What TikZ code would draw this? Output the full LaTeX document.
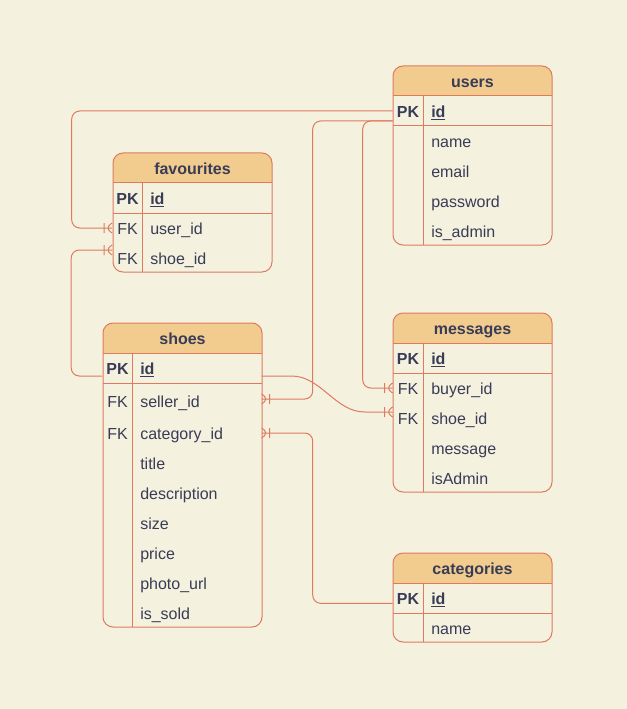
\documentclass[tikz,border=0pt]{standalone}
\usepackage{fontspec}
\setmainfont{Liberation Sans}
\usepackage{tikz}
\usetikzlibrary{decorations.markings}

\definecolor{erfill}{HTML}{F4F1DE}
\definecolor{erhead}{HTML}{F2CC8F}
\definecolor{erline}{HTML}{E07A5F}
\definecolor{ertext}{HTML}{393C56}

\tikzset{
  erfont/.style={font=\fontsize{12}{14}\selectfont, text=ertext, text height=11pt, text depth=1.5pt},
  keycell/.style={erfont, minimum width=22.5pt, minimum height=22.5pt, inner sep=0pt},
  fieldcell/.style={erfont, anchor=west, text width=84.75pt, inner xsep=6pt, inner ysep=0pt, minimum height=22.5pt, align=left},
  headcell/.style={erfont, font=\fontsize{12}{14}\selectfont\bfseries},
  frame/.style={draw=erline, line width=0.75pt},
  link/.style={draw=erline, line width=0.75pt, rounded corners=6pt},
  crow/.style={postaction={decorate}, decoration={markings, mark=at position 1 with {\draw[erline, line width=0.75pt] (0pt,-3.75pt) -- (-6pt,0pt) -- (0pt,3.75pt) (-6pt,-3.75pt) -- (-6pt,3.75pt);}}}
}

\begin{document}
\begin{tikzpicture}[x=0.75pt,y=0.75pt,yscale=-1,xscale=1]
\useasboundingbox (0,0) rectangle (627,709);
\fill[erfill] (0,0) rectangle (627,709);

%Shape: Table [users]
\begin{scope}
\clip[rounded corners=7.5pt] (393,66) rectangle (552,245);
\fill[erhead] (393,66) rectangle (552,96);
\end{scope}
\draw[frame, rounded corners=7.5pt] (393,66) rectangle (552,245);
\draw[frame] (393,96) -- (552,96) (393,126) -- (552,126) (423,96) -- (423,245);
\node[headcell] (usersHead) at (472.5,81) {users};
\node[keycell, font=\fontsize{12}{14}\selectfont\bfseries] (usersPK) at (408,111) {PK};
\node[fieldcell, font=\fontsize{12}{14}\selectfont\bfseries] (usersId) at (423,111) {\underline{id}};
\node[fieldcell] (usersName) at (423,141) {name};
\node[fieldcell] (usersEmail) at (423,171) {email};
\node[fieldcell] (usersPassword) at (423,201) {password};
\node[fieldcell] (usersAdmin) at (423,231) {is\_admin};

%Shape: Table [favourites]
\begin{scope}
\clip[rounded corners=7.5pt] (113,153) rectangle (272,272);
\fill[erhead] (113,153) rectangle (272,183);
\end{scope}
\draw[frame, rounded corners=7.5pt] (113,153) rectangle (272,272);
\draw[frame] (113,183) -- (272,183) (113,213) -- (272,213) (142,183) -- (142,272);
\node[headcell] (favHead) at (192.5,168) {favourites};
\node[keycell, font=\fontsize{12}{14}\selectfont\bfseries] (favPK) at (127.5,198) {PK};
\node[fieldcell, font=\fontsize{12}{14}\selectfont\bfseries] (favId) at (142,198) {\underline{id}};
\node[keycell] (favUserFK) at (127.5,228) {FK};
\node[fieldcell] (favUser) at (142,228) {user\_id};
\node[keycell] (favShoeFK) at (127.5,258) {FK};
\node[fieldcell] (favShoe) at (142,258) {shoe\_id};

%Shape: Table [shoes]
\begin{scope}
\clip[rounded corners=7.5pt] (103,323) rectangle (262,627);
\fill[erhead] (103,323) rectangle (262,353);
\end{scope}
\draw[frame, rounded corners=7.5pt] (103,323) rectangle (262,627);
\draw[frame] (103,353) -- (262,353) (103,383) -- (262,383) (132,353) -- (132,627);
\node[headcell] (shoesHead) at (182.5,338) {shoes};
\node[keycell, font=\fontsize{12}{14}\selectfont\bfseries] (shoesPK) at (117.5,368) {PK};
\node[fieldcell, font=\fontsize{12}{14}\selectfont\bfseries] (shoesId) at (132,368) {\underline{id}};
\node[keycell] (shoesSellerFK) at (117.5,401) {FK};
\node[fieldcell] (shoesSeller) at (132,401) {seller\_id};
\node[keycell] (shoesCategoryFK) at (117.5,433) {FK};
\node[fieldcell] (shoesCategory) at (132,433) {category\_id};
\node[fieldcell] (shoesTitle) at (132,463) {title};
\node[fieldcell] (shoesDescription) at (132,493) {description};
\node[fieldcell] (shoesSize) at (132,523) {size};
\node[fieldcell] (shoesPrice) at (132,553) {price};
\node[fieldcell] (shoesPhoto) at (132,583) {photo\_url};
\node[fieldcell] (shoesSold) at (132,613) {is\_sold};

%Shape: Table [messages]
\begin{scope}
\clip[rounded corners=7.5pt] (393,313) rectangle (552,492);
\fill[erhead] (393,313) rectangle (552,343);
\end{scope}
\draw[frame, rounded corners=7.5pt] (393,313) rectangle (552,492);
\draw[frame] (393,343) -- (552,343) (393,373) -- (552,373) (423,343) -- (423,492);
\node[headcell] (msgHead) at (472.5,328) {messages};
\node[keycell, font=\fontsize{12}{14}\selectfont\bfseries] (msgPK) at (408,358) {PK};
\node[fieldcell, font=\fontsize{12}{14}\selectfont\bfseries] (msgId) at (423,358) {\underline{id}};
\node[keycell] (msgBuyerFK) at (408,388) {FK};
\node[fieldcell] (msgBuyer) at (423,388) {buyer\_id};
\node[keycell] (msgShoeFK) at (408,418) {FK};
\node[fieldcell] (msgShoe) at (423,418) {shoe\_id};
\node[fieldcell] (msgText) at (423,448) {message};
\node[fieldcell] (msgAdmin) at (423,478) {isAdmin};

%Shape: Table [categories]
\begin{scope}
\clip[rounded corners=7.5pt] (393,553) rectangle (552,642);
\fill[erhead] (393,553) rectangle (552,583);
\end{scope}
\draw[frame, rounded corners=7.5pt] (393,553) rectangle (552,642);
\draw[frame] (393,583) -- (552,583) (393,613) -- (552,613) (423,583) -- (423,642);
\node[headcell] (catHead) at (472.5,568) {categories};
\node[keycell, font=\fontsize{12}{14}\selectfont\bfseries] (catPK) at (408,598) {PK};
\node[fieldcell, font=\fontsize{12}{14}\selectfont\bfseries] (catId) at (423,598) {\underline{id}};
\node[fieldcell] (catName) at (423,628) {name};

%Connectors
\draw[link, crow] (usersPK.west) -- ++(-321,0) |- (favUserFK.west);
\draw[link, crow] ([yshift=7.5pt]usersPK.west) -- ++(-80,0) |- ([yshift=-1.5pt]shoesSeller.east);
\draw[link, crow] ([yshift=7.5pt]usersPK.west) -- ++(-30,0) |- (msgBuyerFK.west);
\draw[link, crow] ([yshift=6pt]shoesId.east) -- ++(22,0) to[out=0,in=180] ([xshift=-15pt,yshift=-4.5pt]msgShoeFK.west) -- ([yshift=-4.5pt]msgShoeFK.west);
\draw[link, crow] ([yshift=6pt]shoesPK.west) -- ++(-31,0) |- ([yshift=-6pt]favShoeFK.west);
\draw[link, crow] ([yshift=4pt]catPK.west) -- ++(-80,0) |- (shoesCategory.east);
\end{tikzpicture}
\end{document}
